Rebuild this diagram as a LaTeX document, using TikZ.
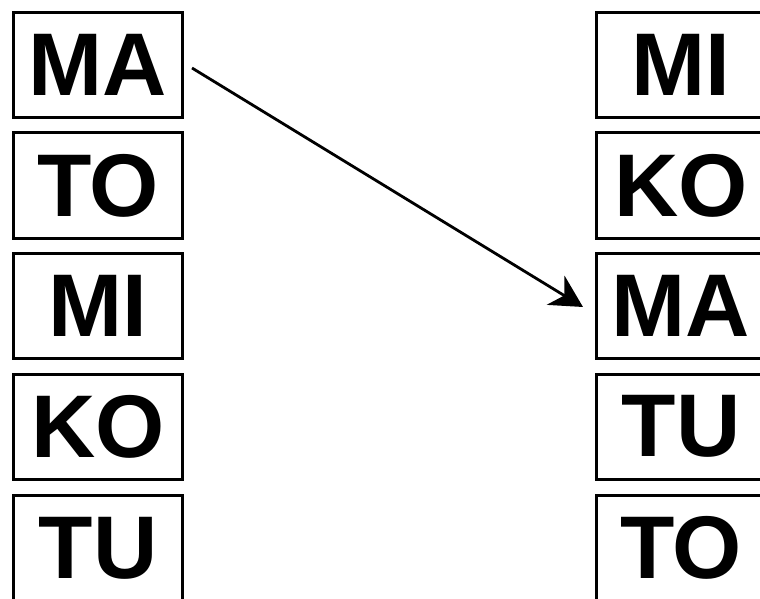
\documentclass[tikz,border=0pt]{standalone}
\usepackage{fontspec}
\setmainfont{Liberation Sans}
\usetikzlibrary{arrows.meta}
\tikzset{
  cell/.style={draw=black, line width=3pt, minimum width=169pt, minimum height=105pt, inner sep=0pt,
    font=\fontsize{89}{89}\selectfont\bfseries, text=black},
  link/.style={line width=2.8pt, -{Stealth[length=32pt,width=34pt,inset=10pt]}}
}
\begin{document}
\begin{tikzpicture}[x=1pt,y=-1pt]
\useasboundingbox (0,0) rectangle (760,599);
\clip (0,0) rectangle (760,599);
\fill[white] (0,0) rectangle (760,599);
\node[cell] (l1) at (98,65) {MA};
\node[cell] (l2) at (98,185.5) {TO};
\node[cell] (l3) at (98,306) {MI};
\node[cell] (l4) at (98,426.5) {KO};
\node[cell] (l5) at (98,548) {TU};
\node[cell] (r1) at (681,65) {MI};
\node[cell] (r2) at (681,185.5) {KO};
\node[cell] (r3) at (681,306) {MA};
\node[cell] (r4) at (681,426.5) {TU};
\node[cell] (r5) at (681,548) {TO};
\draw[link] ([xshift=8pt,yshift=-3pt]l1.east) -- ([xshift=-12pt,yshift=-1pt]r3.west);
\end{tikzpicture}
\end{document}
